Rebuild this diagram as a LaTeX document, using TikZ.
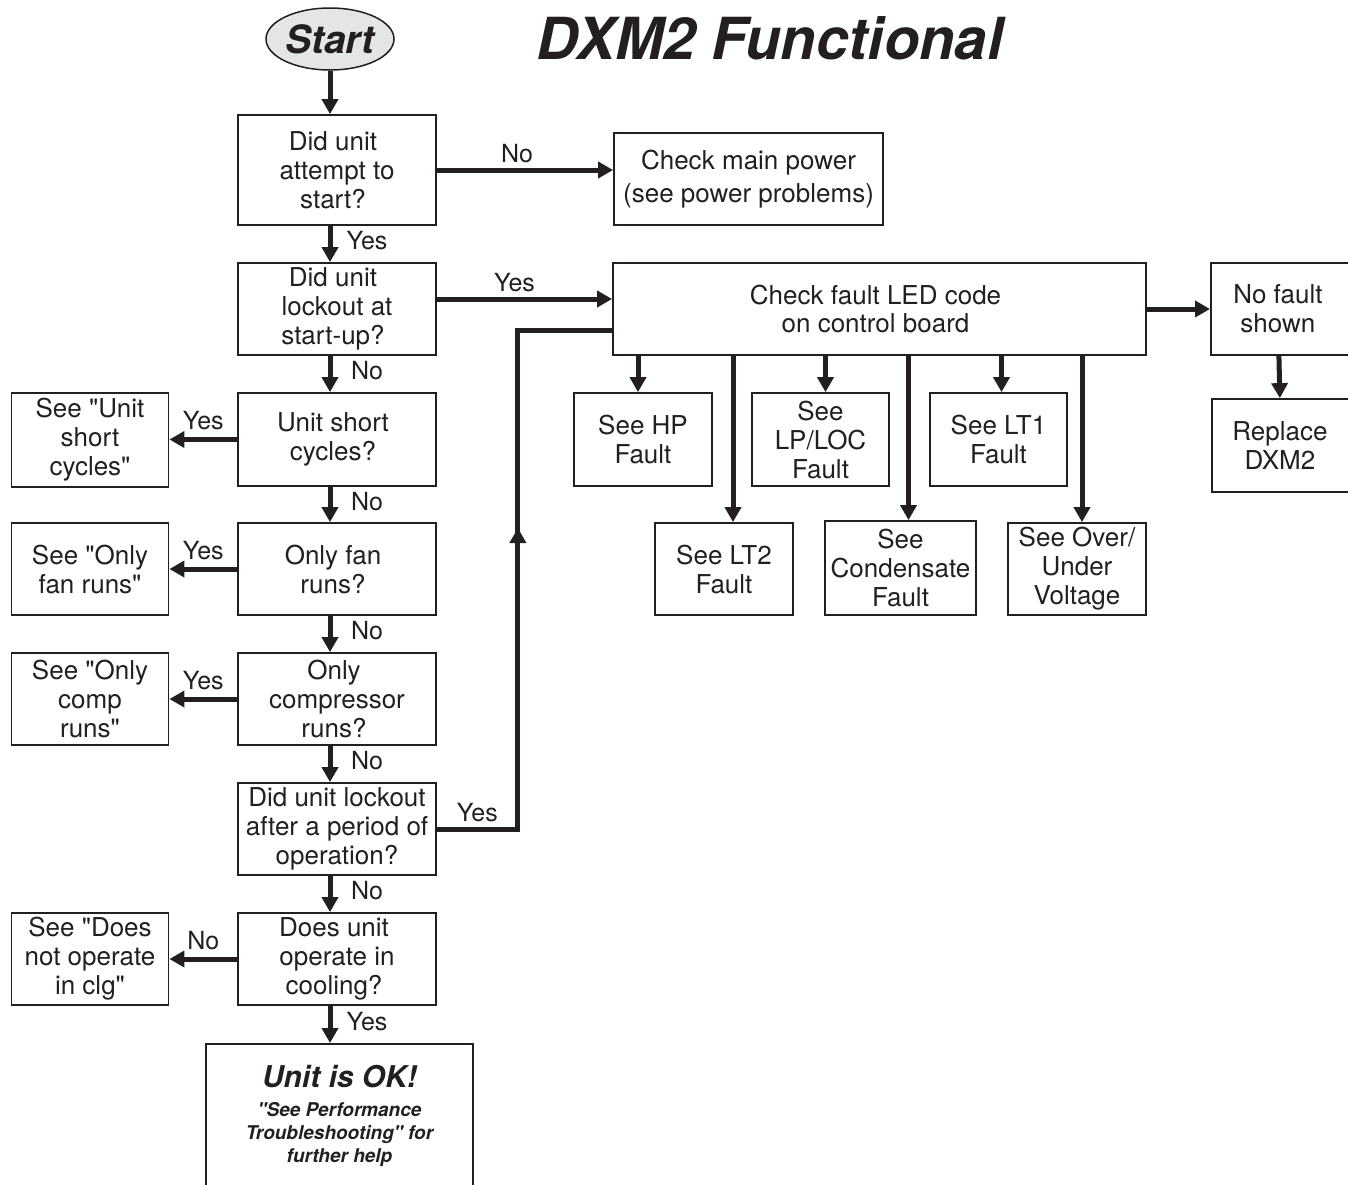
\documentclass[tikz,border=0pt]{standalone}
\usepackage{fontspec}
\setmainfont{TeX Gyre Heros}[Ligatures=TeXOff]
\usetikzlibrary{arrows.meta,decorations.markings,shapes.geometric}
\definecolor{ink}{HTML}{231F20}
\begin{document}
\begin{tikzpicture}[x=1pt,y=-1pt,
  box/.style={draw=ink, line width=1.8pt, align=center, inner sep=2pt, text=ink,
    font=\fontsize{26}{29}\selectfont},
  arr/.style={draw=ink, line width=5pt, -{Triangle[length=15pt,width=16pt]}},
  loopline/.style={draw=ink, line width=5pt},
  lbl/.style={font=\fontsize{25}{29}\selectfont, text=ink, inner sep=2pt}]
\clip (0,0) rectangle (1348,1184);

% title and start
\node[font=\fontsize{58}{60}\selectfont\bfseries\itshape, text=ink] (title) at (770,38) {DXM2 Functional};
\node[ellipse, draw=ink, line width=1.5pt, fill=gray!20, minimum width=128pt, minimum height=62pt, inner sep=0pt,
  font=\fontsize{39}{40}\selectfont\bfseries\itshape, text=ink] (start) at (330,39) {Start};

% left column
\node[box, minimum width=198pt, minimum height=110pt] (b1) at (337,170) {Did unit\hspace*{8pt}\\attempt to\hspace*{8pt}\\start?\hspace*{8pt}};
\node[box, minimum width=198pt, minimum height=92pt] (b2) at (337,309) {Did unit\hspace*{8pt}\\lockout at\hspace*{8pt}\\start-up?\hspace*{8pt}};
\node[box, minimum width=198pt, minimum height=93pt] (b3) at (337,439.5) {Unit short\hspace*{8pt}\\cycles?\hspace*{8pt}};
\node[box, minimum width=198pt, minimum height=92pt] (b4) at (337,569) {Only fan\hspace*{8pt}\\runs?\hspace*{8pt}};
\node[box, minimum width=198pt, minimum height=92pt] (b5) at (337,699) {Only\hspace*{6pt}\\compressor\hspace*{6pt}\\runs?\hspace*{6pt}};
\node[box, minimum width=198pt, minimum height=92pt] (b6) at (337,829) {Did unit lockout\\after a period of\\operation?};
\node[box, minimum width=198pt, minimum height=92pt] (b7) at (337,959) {Does unit\hspace*{6pt}\\operate in\hspace*{6pt}\\cooling?\hspace*{6pt}};
\node[box, anchor=north, minimum width=267pt, minimum height=144pt, font=\fontsize{19}{23}\selectfont\bfseries\itshape] (ok) at (339.5,1043)
  {{\fontsize{30}{34}\selectfont Unit is OK!}\\[6pt]"See Performance\\Troubleshooting" for\\further help};

% far left
\node[box, minimum width=157pt, minimum height=94pt] (s1) at (90,440) {See "Unit\\short\\cycles"};
\node[box, minimum width=157pt, minimum height=92pt] (s2) at (90,569) {See "Only\\fan runs"};
\node[box, minimum width=157pt, minimum height=92pt] (s3) at (90,699) {See "Only\\comp\\runs"};
\node[box, minimum width=157pt, minimum height=92pt] (s4) at (90,959) {See "Does\\not operate\\in clg"};

% right part
\node[box, minimum width=269pt, minimum height=92pt, font=\fontsize{26}{33}\selectfont] (power) at (748.5,179) {Check main power\\(see power problems)};
\node[box, minimum width=533pt, minimum height=92pt, font=\fontsize{26}{28}\selectfont] (fault) at (879.5,309) {Check fault LED code\hspace*{8pt}\\on control board\hspace*{8pt}};
\node[box, anchor=west, minimum width=160pt, minimum height=92pt] (nofault) at (1210,309) {No fault\hspace*{26pt}\\shown\hspace*{26pt}};
\node[box, anchor=west, minimum width=160pt, minimum height=93pt] (replace) at (1211,445.5) {Replace\hspace*{24pt}\\DXM2\hspace*{24pt}};

\node[box, minimum width=138pt, minimum height=93pt] (hp) at (643,439.5) {See HP\\Fault};
\node[box, minimum width=137pt, minimum height=93pt] (lp) at (820.5,439.5) {See\\LP/LOC\\Fault};
\node[box, minimum width=137pt, minimum height=93pt] (lt1) at (998.5,439.5) {See LT1\\Fault};
\node[box, minimum width=138pt, minimum height=92pt] (lt2) at (724,569) {See LT2\\Fault};
\node[box, minimum width=151pt, minimum height=94pt] (cond) at (900.5,568) {See\\Condensate\\Fault};
\node[box, minimum width=138pt, minimum height=92pt] (over) at (1077,569) {See Over/\\Under\\Voltage};

% vertical flow
\draw[arr] (start) -- (b1.north -| start);
\draw[arr] (b1.south -| start) -- node[lbl, xshift=37pt, yshift=3pt] (y1) {Yes} (b2.north -| start);
\draw[arr] (b2.south -| start) -- node[lbl, xshift=37pt, yshift=3pt] (n1) {No} (b3.north -| start);
\draw[arr] (b3.south -| start) -- node[lbl, xshift=37pt, yshift=3pt] (n2) {No} (b4.north -| start);
\draw[arr] (b4.south -| start) -- node[lbl, xshift=37pt, yshift=3pt] (n3) {No} (b5.north -| start);
\draw[arr] (b5.south -| start) -- node[lbl, xshift=37pt, yshift=3pt] (n4) {No} (b6.north -| start);
\draw[arr] (b6.south -| start) -- node[lbl, xshift=37pt, yshift=3pt] (n5) {No} (b7.north -| start);
\draw[arr] (b7.south -| start) -- node[lbl, xshift=37pt, yshift=3pt] (y2) {Yes} (ok.north -| start);

% left branches
\draw[arr] (b3.west) -- node[lbl, above=5pt] (y3) {Yes} (s1.east |- b3.west);
\draw[arr] (b4.west) -- node[lbl, above=5pt] (y4) {Yes} (s2.east |- b4.west);
\draw[arr] (b5.west) -- node[lbl, above=5pt] (y5) {Yes} (s3.east |- b5.west);
\draw[arr] (b7.west) -- node[lbl, above=5pt] (n6) {No} (s4.east |- b7.west);

% right branches
\draw[arr] (b1.east) -- node[lbl, above=3pt, xshift=-8pt] (n7) {No} (b1.east -| power.west);
\draw[arr] ([yshift=10pt]b2.east) -- node[lbl, above=3pt, xshift=-10pt] (y6) {Yes} ([yshift=10pt]b2.east -| fault.west);
\draw[arr] (fault.east) -- (nofault.west);
\draw[arr] ([xshift=-12pt]nofault.south) -- ([xshift=-12pt]replace.north);

% fault outputs
\draw[arr] ([xshift=-5pt]hp.north |- fault.south) -- ([xshift=-5pt]hp.north);
\draw[arr] ([xshift=9pt]lt2.north |- fault.south) -- ([xshift=9pt]lt2.north);
\draw[arr] ([xshift=5pt]lp.north |- fault.south) -- ([xshift=5pt]lp.north);
\draw[arr] ([xshift=8pt]cond.north |- fault.south) -- ([xshift=8pt]cond.north);
\draw[arr] ([xshift=3pt]lt1.north |- fault.south) -- ([xshift=3pt]lt1.north);
\draw[arr] ([xshift=5pt]over.north |- fault.south) -- ([xshift=5pt]over.north);

% loop back
\draw[loopline, line join=miter, postaction={decorate},
  decoration={markings, mark=at position 382pt with {\arrow{Triangle[length=15pt,width=16pt]}}}]
  (b6.east) -- node[lbl, above=3pt] (y7) {Yes} ++(81,0) |- ([yshift=-21pt]fault.west);
\end{tikzpicture}
\end{document}
